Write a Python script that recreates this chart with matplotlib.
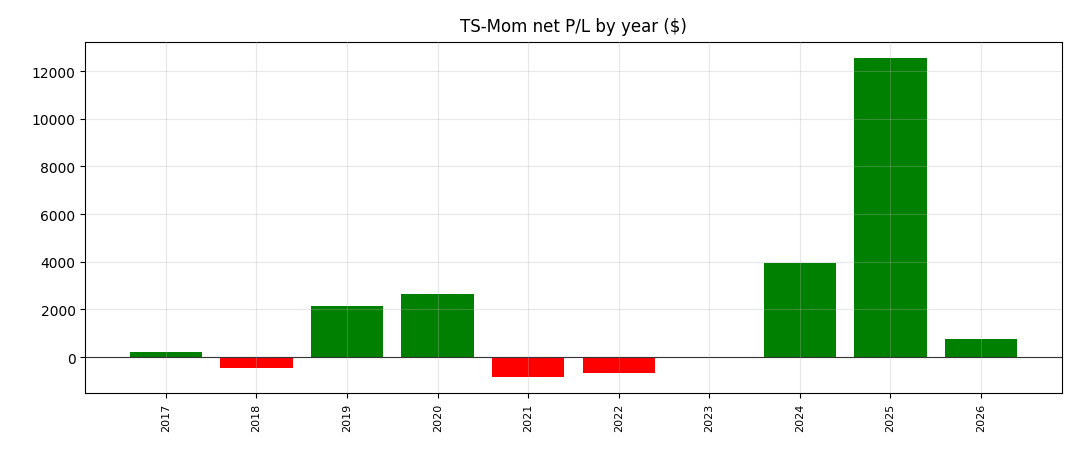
import matplotlib
matplotlib.use("Agg")
import matplotlib.pyplot as plt

# yearly net P/L
years = ["2017", "2018", "2019", "2020", "2021", "2022", "2023", "2024", "2025", "2026"]
pnl = [220, -460, 2140, 2640, -840, -660, 0, 3940, 12540, 760]

colors = ["green" if v >= 0 else "red" for v in pnl]

fig, ax = plt.subplots(figsize=(10.8, 4.56), dpi=100)
ax.bar(years, pnl, color=colors)
ax.axhline(0, color="black", linewidth=0.8)
ax.set_title("TS-Mom net P/L by year ($)", pad=8)
ax.grid(True, alpha=0.3)
ax.set_axisbelow(False)
plt.xticks(rotation=90, fontsize=8)
fig.subplots_adjust(left=0.079, right=0.983, top=0.905, bottom=0.136)
plt.savefig("out.png")
